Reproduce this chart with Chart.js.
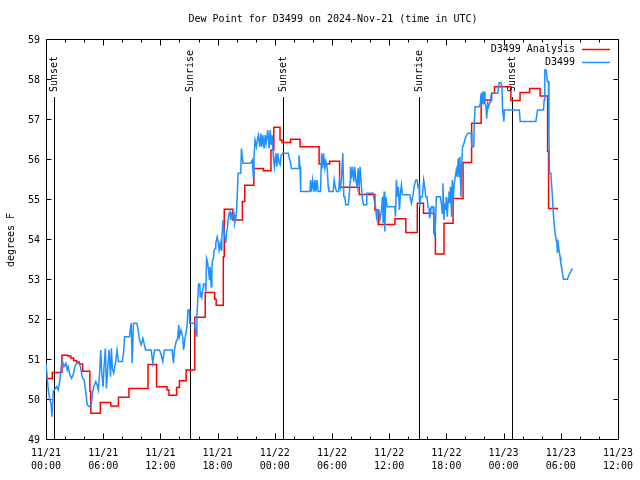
<!DOCTYPE html>
<html><head><meta charset="utf-8">
<script src="https://cdn.jsdelivr.net/npm/chart.js@4/dist/chart.umd.min.js"></script>
<style>html,body{margin:0;padding:0;background:#fff;}#wrap{width:640px;height:480px;position:relative;}</style>
</head><body><div id="wrap"><canvas id="c"></canvas></div>
<script>
// ---------- data ----------
const chartTitle = "Dew Point for D3499 on 2024-Nov-21 (time in UTC)";
const yAxisLabel = "degrees F";
const xTickHours = [0, 6, 12, 18, 24, 30, 36, 42, 48, 54, 60];
const xTickLabels = [["11/21","00:00"],["11/21","06:00"],["11/21","12:00"],["11/21","18:00"],
  ["11/22","00:00"],["11/22","06:00"],["11/22","12:00"],["11/22","18:00"],
  ["11/23","00:00"],["11/23","06:00"],["11/23","12:00"]];
const yTicks = [49, 50, 51, 52, 53, 54, 55, 56, 57, 58, 59];
const seriesNames = ["D3499 Analysis", "D3499"];
const sunEventHours = [0.87, 15.06, 24.87, 39.1, 48.91];
const sunEventLabels = ["Sunset", "Sunrise", "Sunset", "Sunrise", "Sunset"];

// hours since 2024-11-21 00:00 UTC
const analysisHours = [0,0.66,1.67,2.3,2.6,2.9,3.2,3.5,3.85,4.6,4.7,5.7,6.8,7.6,8.7,10.7,11.6,12.7,12.9,13.7,14.0,14.7,
  15.6,16.7,17.7,17.85,18.6,18.7,19.6,20.6,20.85,21.8,22.8,23.6,23.9,24.55,24.75,25.65,26.65,28.65,29.75,30.8,32.85,
  34.5,34.85,36.6,37.75,38.95,39.6,40.7,40.85,41.75,42.7,43.75,44.65,45.65,46.75,47.05,48.77,49.73,50.73,51.83,52.62,52.72,53.72];
const analysisValues = [50.54,50.69,51.12,51.1,51.05,50.99,50.95,50.9,50.72,50.21,49.67,49.94,49.85,50.07,50.29,50.89,50.33,50.25,50.12,50.31,50.48,50.75,
  52.07,52.69,52.52,52.37,53.58,54.77,54.5,54.96,55.37,55.79,55.73,56.25,56.82,56.5,56.44,56.52,56.33,55.9,55.97,55.32,55.14,
  54.75,54.39,54.53,54.19,54.92,54.67,54.17,53.65,54.42,55.04,55.94,56.92,57.5,57.67,57.83,57.49,57.69,57.79,57.6,56.21,54.79,54.79];

const stationHours = [0,0.24,0.41,0.52,0.62,0.76,1.11,1.28,1.46,1.63,1.74,1.88,2.09,2.23,2.33,2.5,2.68,2.85,3.03,3.2,3.48,3.62,3.79,4.0,
  4.18,4.32,4.6,4.77,4.87,5.01,5.22,5.36,5.5,5.64,5.74,5.85,5.99,6.09,6.23,6.34,6.48,6.62,6.76,6.86,6.96,7.1,7.31,7.45,7.59,8.0,
  8.14,8.24,8.76,8.83,8.94,9.04,9.18,9.53,9.67,9.81,9.99,10.16,10.33,10.44,11.03,11.21,11.38,11.9,12.08,12.25,12.42,13.23,13.37,
  13.47,13.65,13.82,13.92,13.99,14.16,14.34,14.44,14.58,14.79,14.9,15.05,15.08,15.6,15.75,15.83,16.0,16.14,16.18,16.25,16.35,16.42,
  16.53,16.7,16.77,16.84,16.94,17.05,17.15,17.22,17.33,17.4,17.47,17.57,17.64,17.75,17.81,17.96,18.06,18.16,18.27,18.37,18.44,
  18.51,18.58,18.68,18.79,18.86,18.93,19.03,19.1,19.21,19.31,19.38,19.49,19.63,19.73,19.8,19.91,19.98,20.08,20.15,20.43,20.5,
  20.6,20.67,21.47,21.65,21.75,21.82,21.93,22.07,22.17,22.28,22.43,22.53,22.64,22.74,22.88,22.99,23.09,23.26,23.41,23.51,23.61,
  23.72,23.86,23.96,24.1,24.21,24.31,24.42,24.56,24.66,24.84,25.43,25.53,25.63,25.74,26.44,26.54,26.65,26.68,26.75,27.69,27.76,
  27.86,27.97,28.11,28.21,28.32,28.42,28.56,28.8,28.91,29.01,29.12,29.26,29.36,29.5,29.61,29.68,30.13,30.23,30.34,30.48,30.69,
  30.79,30.89,31.0,31.14,31.24,31.35,31.45,31.7,31.8,31.9,31.94,32.04,32.15,32.29,32.39,32.53,32.64,32.74,32.85,32.95,33.09,
  33.2,33.33,33.6,33.65,34.32,34.43,34.57,34.67,34.78,34.92,35.02,35.2,35.3,35.37,35.47,35.54,35.65,35.79,35.89,36.59,36.66,
  36.76,36.87,36.97,37.08,37.18,37.29,37.39,37.53,38.16,38.33,38.51,38.61,38.79,38.92,39.03,39.13,39.2,39.31,39.48,39.62,39.73,
  39.83,39.97,40.08,40.18,40.25,40.42,40.6,40.7,40.77,40.88,40.95,41.36,41.47,41.57,41.64,41.75,41.82,41.92,41.99,42.09,42.2,
  42.27,42.34,42.44,42.55,42.62,42.72,42.83,42.93,43.04,43.14,43.25,43.35,43.42,43.53,43.59,43.7,43.8,43.94,44.04,44.15,44.25,
  44.6,44.67,44.87,44.94,45.01,45.46,45.57,45.64,45.74,45.81,45.92,45.99,46.05,46.16,46.23,46.33,46.44,46.58,46.68,46.86,47.38,
  47.55,47.73,47.83,47.9,48.04,48.08,49.65,49.75,51.39,51.56,52.19,52.26,52.33,52.47,52.6,52.71,52.76,52.82,52.96,53.03,53.13,
  53.2,53.3,53.41,53.51,53.58,53.65,53.72,53.82,53.93,54.0,54.1,54.17,54.28,54.7,54.87,55.05,55.22];
const stationValues = [50.92,50.25,50.0,49.92,49.58,50.21,50.33,50.25,50.5,50.92,50.96,50.83,50.92,50.75,50.83,50.63,50.54,50.63,50.83,50.92,50.92,50.83,50.58,50.5,
  50.17,49.88,49.83,49.92,50.17,50.33,50.46,50.38,50.25,50.75,51.25,50.67,50.33,50.83,51.29,50.29,50.83,51.25,50.58,51.29,50.79,50.67,50.96,51.25,50.96,50.96,
  51.17,51.58,51.58,51.75,51.92,50.92,51.92,51.92,51.75,51.5,51.38,51.54,51.38,51.25,51.25,50.92,51.25,51.25,51.13,50.96,51.25,51.25,50.92,
  51.25,51.46,51.54,51.88,51.58,51.75,51.58,51.25,51.54,51.83,52.25,52.25,51.92,51.92,51.6,52.08,52.9,52.9,52.58,52.71,52.58,52.71,
  52.9,52.9,52.71,53.54,53.46,53.25,53.0,53.33,52.83,53.25,53.5,53.54,53.75,53.79,53.92,54.08,53.96,53.75,53.92,53.75,54.0,
  54.29,54.5,54.17,54.04,53.92,54.17,54.29,54.5,54.67,54.71,54.5,54.63,54.54,54.63,54.42,54.54,54.71,55.21,55.67,55.67,56.29,
  56.08,55.92,55.92,56.0,55.58,56.08,56.5,56.33,56.5,56.62,56.33,56.67,56.33,56.62,56.29,56.62,56.42,56.75,56.29,56.75,56.38,
  56.62,56.04,55.83,56.17,55.83,56.17,55.96,55.88,56.12,56.17,56.17,56.04,55.96,55.79,55.79,56.12,55.83,55.46,55.21,55.21,55.5,
  55.21,55.5,55.21,55.5,55.21,55.5,55.21,55.21,56.17,55.79,56.17,55.79,55.96,55.79,55.33,55.21,55.21,55.5,55.33,55.21,55.21,
  55.5,55.33,55.54,56.17,55.08,55.08,54.88,54.88,55.08,55.46,55.83,55.54,55.83,55.46,55.83,55.46,55.33,55.79,55.33,55.83,55.33,
  55.0,54.88,54.88,55.17,55.17,55.0,54.83,54.58,54.75,54.75,54.5,54.75,55.08,54.42,55.21,54.21,55.08,54.83,54.83,54.83,54.58,
  55.5,55.08,55.33,54.75,55.17,55.38,55.13,55.13,55.13,54.92,55.13,55.33,55.5,55.5,55.33,55.38,54.83,55.08,55.08,55.5,55.33,
  55.08,55.08,54.83,54.79,54.54,54.83,54.83,54.42,54.08,54.54,55.08,55.08,54.92,54.67,55.42,54.5,54.92,54.75,55.08,54.58,55.04,
  55.21,54.92,55.33,54.58,55.5,55.0,55.42,55.58,55.75,55.58,56.04,55.58,56.08,55.08,55.75,56.33,56.38,56.5,56.58,56.62,56.67,
  56.67,56.33,56.33,56.96,57.33,57.33,57.42,57.67,57.42,57.71,57.5,57.71,57.42,57.33,57.04,57.42,57.33,57.46,57.62,57.67,57.67,
  57.93,57.93,57.83,57.25,56.96,57.25,57.25,56.96,56.96,57.25,57.25,57.5,58.25,58.25,57.96,57.96,56.75,55.67,55.67,55.42,55.08,
  54.75,54.42,54.17,54.0,53.96,53.67,53.92,53.75,53.58,53.42,53.29,53.17,53.02,53.02,53.13,53.21,53.29];

// ---------- styles ----------
const FONT = "DejaVu Sans Mono";
const RED = "#ff0000";
const BLUE = "#1e90ff";

const toPoints = (xs, ys) => xs.map((h, i) => ({x: h, y: ys[i]}));

const gnuplotFrame = {
  id: 'gnuplotFrame',
  beforeDatasetsDraw(chart) {
    const {ctx, chartArea: a, scales: {x, y}} = chart;
    const L = Math.round(a.left) + 0.5, R = Math.round(a.right) + 0.5;
    const T = Math.round(a.top) - 0.5, B = Math.round(a.bottom) - 0.5;
    ctx.save();
    ctx.strokeStyle = '#000'; ctx.lineWidth = 1;
    ctx.strokeRect(L, T, R - L, B - T);
    ctx.beginPath();
    const minorStep = 2;
    for (let h = x.min; h <= x.max; h += minorStep) {
      const px = Math.round(x.getPixelForValue(h)) + 0.5;
      const len = xTickHours.includes(h) ? 6 : 3;
      ctx.moveTo(px, B); ctx.lineTo(px, B - len);
      ctx.moveTo(px, T); ctx.lineTo(px, T + len);
    }
    yTicks.forEach(v => {
      const py = Math.round(y.getPixelForValue(v)) - 0.5;
      ctx.moveTo(L, py); ctx.lineTo(L + 5, py);
      ctx.moveTo(R, py); ctx.lineTo(R - 5, py);
    });
    // sunrise / sunset markers
    sunEventHours.forEach(h => {
      const px = Math.round(x.getPixelForValue(h)) + 0.5;
      ctx.moveTo(px, 97); ctx.lineTo(px, B);
    });
    ctx.stroke();
    ctx.restore();
  },
  afterDraw(chart) {
    const {ctx, scales: {x}} = chart;
    ctx.save();
    ctx.fillStyle = '#000';
    ctx.font = `10px "${FONT}"`;
    // title
    ctx.textAlign = 'center'; ctx.textBaseline = 'middle';
    ctx.fillText(chartTitle, 333, 19);
    // sun labels
    sunEventHours.forEach((h, i) => {
      const px = Math.round(x.getPixelForValue(h)) + 0.5;
      ctx.save();
      ctx.translate(px, 92);
      ctx.rotate(-Math.PI / 2);
      ctx.textAlign = 'left'; ctx.textBaseline = 'middle';
      ctx.fillText(sunEventLabels[i], 0, 0);
      ctx.restore();
    });
    // legend
    const colors = [RED, BLUE];
    seriesNames.forEach((n, i) => {
      const yy = 49 + i * 13;
      ctx.fillStyle = '#000';
      ctx.textAlign = 'right'; ctx.textBaseline = 'middle';
      ctx.fillText(n, 575, yy);
      ctx.strokeStyle = colors[i]; ctx.lineWidth = 1.5;
      ctx.beginPath(); ctx.moveTo(582, yy + 0.5); ctx.lineTo(610, yy + 0.5); ctx.stroke();
    });
    ctx.restore();
  }
};

new Chart(document.getElementById('c'), {
  type: 'line',
  data: {
    datasets: [
      {label: seriesNames[1], data: toPoints(stationHours, stationValues), borderColor: BLUE,
       borderWidth: 1.5, pointRadius: 0, tension: 0, fill: false, order: 0},
      {label: seriesNames[0], data: toPoints(analysisHours, analysisValues), borderColor: RED,
       borderWidth: 1.5, pointRadius: 0, stepped: 'before', fill: false, order: 1}
    ]
  },
  options: {
    responsive: true, maintainAspectRatio: false, animation: false,
    layout: {padding: {left: 0, right: 19, top: 40, bottom: 0}},
    plugins: {legend: {display: false}, tooltip: {enabled: false}, title: {display: false}},
    scales: {
      x: {
        type: 'linear', min: 0, max: 60,
        afterBuildTicks: s => { s.ticks = xTickHours.map(v => ({value: v})); },
        afterFit: s => { s.height = 40; },
        grid: {display: false, drawTicks: false}, border: {display: false},
        ticks: {autoSkip: false, maxRotation: 0, padding: 7, color: '#000',
          font: {family: FONT, size: 10, lineHeight: 1.3},
          callback: v => xTickLabels[xTickHours.indexOf(v)]}
      },
      y: {
        type: 'linear', min: 49, max: 59,
        afterBuildTicks: s => { s.ticks = yTicks.map(v => ({value: v})); },
        afterFit: s => { s.width = 46; },
        grid: {display: false, drawTicks: false}, border: {display: false},
        ticks: {padding: 6, color: '#000', font: {family: FONT, size: 10}, callback: v => String(v)},
        title: {display: true, text: yAxisLabel, color: '#000', padding: {top: 5, bottom: 0},
          font: {family: FONT, size: 10}}
      }
    }
  },
  plugins: [gnuplotFrame]
});
</script>
</body></html>
